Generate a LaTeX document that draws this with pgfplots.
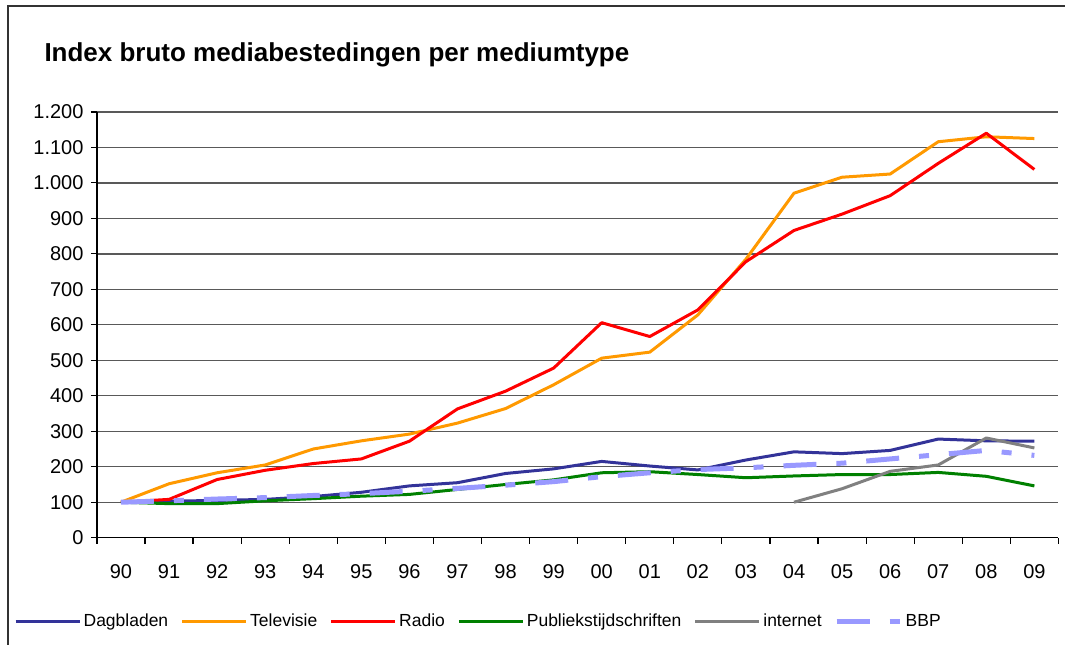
\documentclass[border=0pt]{standalone}
\usepackage{fontspec}
\setmainfont{Liberation Sans}
\usepackage{pgfplots}
\pgfplotsset{compat=1.18}
\definecolor{cDag}{HTML}{333399}
\definecolor{cTv}{HTML}{FF9900}
\definecolor{cRad}{HTML}{FF0000}
\definecolor{cPub}{HTML}{008000}
\definecolor{cInt}{HTML}{808080}
\definecolor{cBbp}{HTML}{9999FF}
\begin{document}
\begin{tikzpicture}[x=1pt,y=1pt]
\path (0,0) rectangle (1066,645);
\draw[line width=1.2pt, black!80] (8,0) -- (8,639) -- (1066,639);
\node[anchor=base west, font=\fontsize{26}{30}\selectfont\bfseries] at (41,583) {Index bruto mediabestedingen per mediumtype};
\begin{axis}[
  at={(97pt,107pt)}, anchor=south west,
  scale only axis, width=962pt, height=426pt,
  xmin=-0.5, xmax=19.5, ymin=0, ymax=1200,
  axis lines*=left,
  axis line style={line width=1.2pt, black},
  xtick={0,...,19},
  xticklabels={90,91,92,93,94,95,96,97,98,99,00,01,02,03,04,05,06,07,08,09},
  minor xtick={-0.5,0.5,...,19.5},
  major x tick style={draw=none},
  minor tick length=6pt,
  major tick length=6pt,
  tick align=outside,
  tick style={line width=1.2pt, black},
  ytick={0,100,...,1200},
  ymajorgrids,
  grid style={line width=1.3pt, black!65},
  /pgf/number format/.cd, 1000 sep={.}, assume math mode=true,
  /pgfplots/.cd,
  ticklabel style={font=\fontsize{20}{23}\selectfont},
  xticklabel style={yshift=-17pt},
  yticklabel style={xshift=-4pt},
  legend columns=6,
  legend style={draw=none, fill=none, inner sep=0pt,
    at={(axis description cs:-0.0863,-0.1965)}, anchor=west,
    font=\fontsize{17.5}{20}\selectfont,
    nodes={inner sep=2.5pt},
    /tikz/every even column/.append style={column sep=10pt}},
  legend image code/.code={\draw[#1] (0pt,0pt) -- (64pt,0pt);},
  every axis plot/.append style={line join=round},
]
\addplot[cDag, line width=3pt] coordinates {(0,100)(1,103)(2,105)(3,108)(4,116)(5,128)(6,146)(7,155)(8,181)(9,194)(10,215)(11,202)(12,191)(13,219)(14,242)(15,237)(16,246)(17,278)(18,273)(19,272)};
\addlegendentry{Dagbladen}
\addplot[cTv, line width=3pt] coordinates {(0,100)(1,152)(2,183)(3,205)(4,250)(5,273)(6,292)(7,323)(8,364)(9,431)(10,506)(11,523)(12,628)(13,785)(14,971)(15,1016)(16,1025)(17,1116)(18,1130)(19,1125)};
\addlegendentry{Televisie}
\addplot[cRad, line width=3pt] coordinates {(0,100)(1,108)(2,164)(3,190)(4,209)(5,222)(6,272)(7,363)(8,413)(9,478)(10,606)(11,567)(12,642)(13,778)(14,866)(15,912)(16,964)(17,1055)(18,1140)(19,1038)};
\addlegendentry{Radio}
\addplot[cPub, line width=3pt] coordinates {(0,100)(1,96)(2,96)(3,104)(4,110)(5,117)(6,122)(7,136)(8,150)(9,163)(10,183)(11,186)(12,178)(13,169)(14,174)(15,178)(16,178)(17,184)(18,173)(19,146)};
\addlegendentry{Publiekstijdschriften}
\addplot[cInt, line width=3pt] coordinates {(14,100)(15,138)(16,187)(17,205)(18,281)(19,253)};
\addlegendentry{internet}
\addplot[cBbp, line width=5pt, dash pattern=on 33pt off 20pt on 10pt off 20pt] coordinates {(0,100)(1,104)(2,109)(3,113)(4,119)(5,124)(6,131)(7,139)(8,148)(9,158)(10,172)(11,183)(12,192)(13,197)(14,204)(15,210)(16,222)(17,234)(18,246)(19,232)};
\addlegendentry{BBP}
\end{axis}
\end{tikzpicture}
\end{document}
